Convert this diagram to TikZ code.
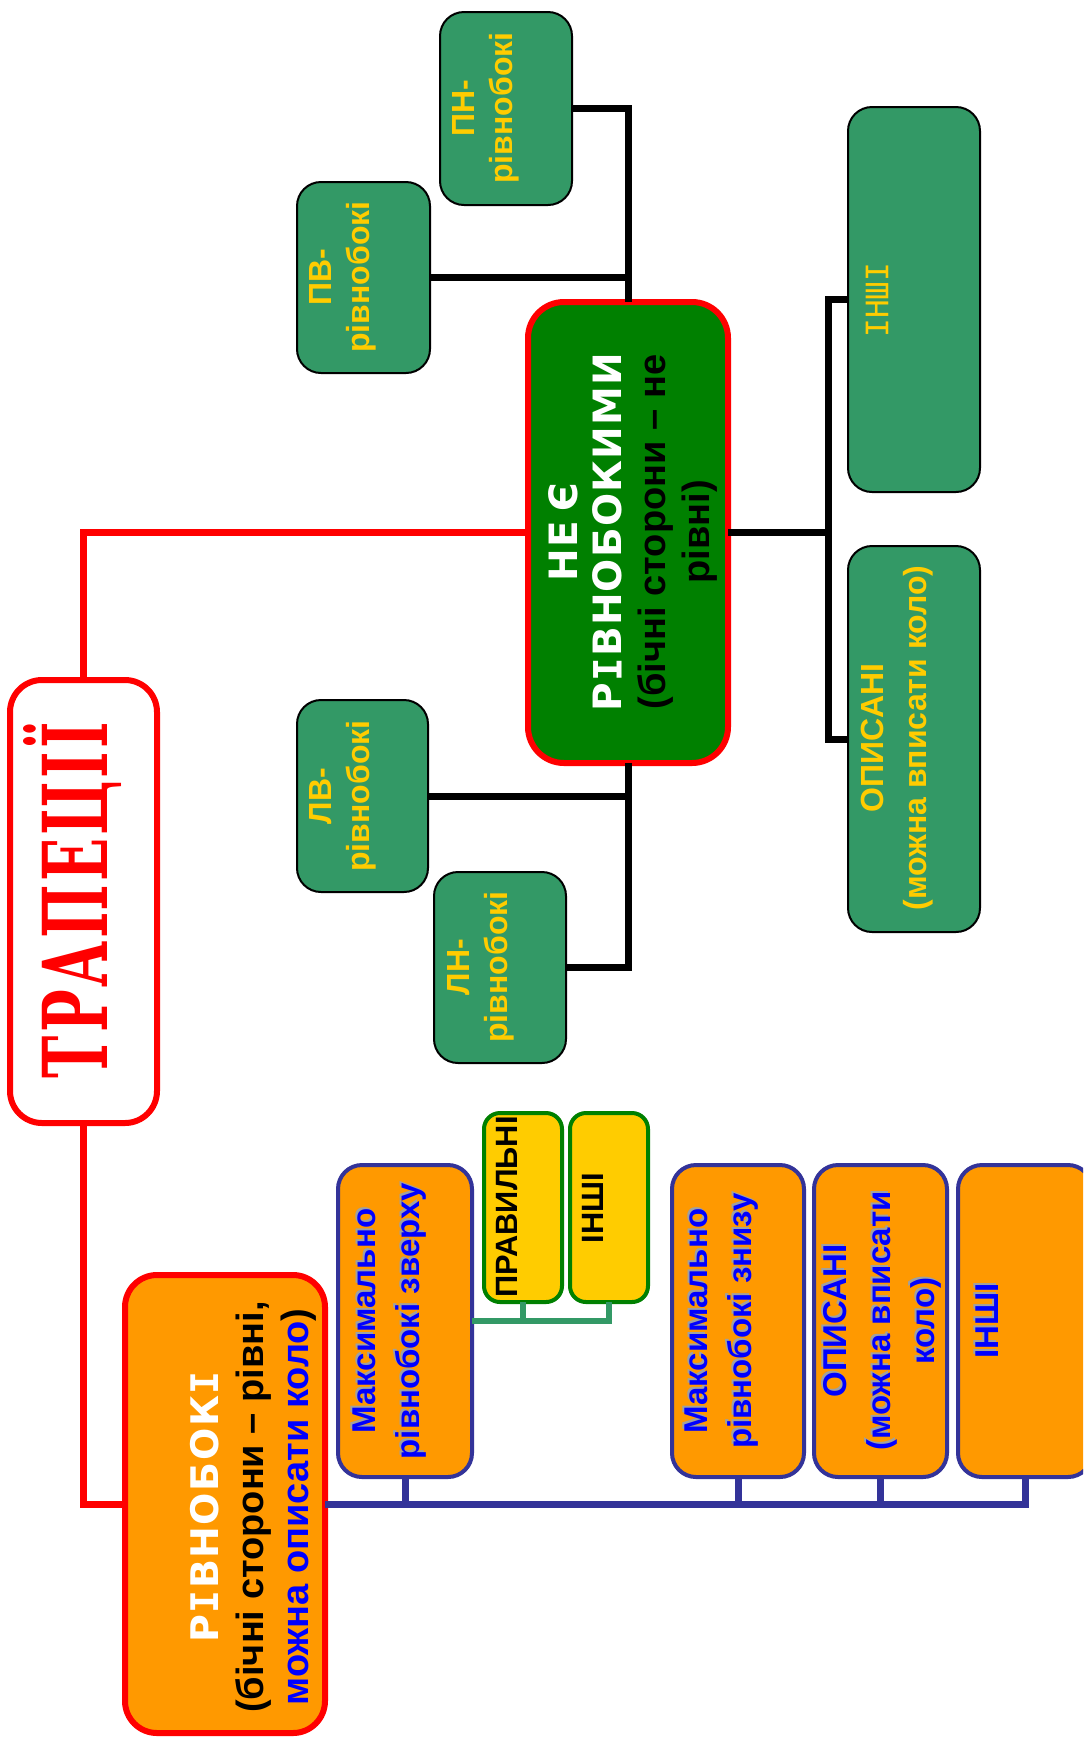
\documentclass[tikz,border=0pt]{standalone}
\usepackage{fontspec}
\usepackage{graphicx}
\setmainfont{Liberation Sans}
\newfontfamily\hdB{DejaVu Sans}
\newfontfamily\monoplain{DejaVu Sans Mono}
\newfontfamily\serifT{DejaVu Serif}
\newcommand\kA{\kern0.8pt}
\newcommand\kB{\kern0.6pt}
\newcommand\sI{{\monoplain\bfseries І}}
\definecolor{cRed}{HTML}{FF0000}
\definecolor{cDGreen}{HTML}{008000}
\definecolor{cSea}{HTML}{339966}
\definecolor{cYellow}{HTML}{FFCC00}
\definecolor{cOrange}{HTML}{FF9900}
\definecolor{cNavy}{HTML}{333399}
\definecolor{cBlue}{HTML}{0000FF}
\definecolor{cShadow}{HTML}{A0A0A0}
\begin{document}
\begin{tikzpicture}[x=0.5pt,y=-0.5pt,
  box/.style={draw, inner sep=0pt, outer sep=0pt},
  redbox/.style={box, draw=cRed, line width=3pt, rounded corners=16pt},
  seabox/.style={box, draw=black, fill=cSea, line width=1pt, rounded corners=12pt},
  orbox/.style={box, draw=cNavy, fill=cOrange, line width=2pt, rounded corners=12pt},
  yebox/.style={box, draw=cDGreen, fill=cYellow, line width=2pt, rounded corners=8pt},
  txt/.style={rotate=90, inner sep=0pt, align=center},
  redline/.style={draw=cRed, line width=3.5pt},
  blkline/.style={draw=black, line width=3.5pt},
  navyline/.style={draw=cNavy, line width=3.5pt},
  sealine/.style={draw=cSea, line width=3pt},
  otxt/.style={txt, text=cBlue, font=\fontsize{16.5}{22}\selectfont\bfseries},
  oshadow/.style={otxt, text=cShadow, xshift=1pt, yshift=1pt},
  gtxt/.style={txt, text=cYellow, font=\fontsize{16}{19}\selectfont\bfseries},
  ytxt/.style={txt, text=black, font=\fontsize{15.4}{19}\selectfont\bfseries},
]
\useasboundingbox (0,0) rectangle (1083,1737);
\clip (0,0) rectangle (1083,1737);

% ---- boxes ----
\node[redbox, fill=white, minimum width=73.5pt, minimum height=221.5pt] (trap) at (83.5,901.5) {};
\node[redbox, fill=cOrange, minimum width=100pt, minimum height=229pt] (rivn) at (225,1504) {};
\node[redbox, fill=cDGreen, rounded corners=18pt, minimum width=100pt, minimum height=230.5pt] (ne) at (628,532.5) {};

\node[orbox, minimum width=67pt, minimum height=156pt] (o1) at (405,1321) {};
\node[orbox, minimum width=66pt, minimum height=156pt] (o2) at (738,1321) {};
\node[orbox, minimum width=66.5pt, minimum height=156pt] (o3) at (880.5,1321) {};
\node[orbox, minimum width=67pt, minimum height=156pt] (o4) at (1025,1321) {};

\node[yebox, minimum width=39pt, minimum height=94.5pt] (y1) at (523,1207.5) {};
\node[yebox, minimum width=39pt, minimum height=94.5pt] (y2) at (609,1207.5) {};

\node[seabox, minimum width=66pt, minimum height=96.5pt] (pn) at (506,108.5) {};
\node[seabox, minimum width=66.5pt, minimum height=95.5pt] (pv) at (363.5,277.5) {};
\node[seabox, minimum width=65.5pt, minimum height=96pt] (lv) at (362.5,796) {};
\node[seabox, minimum width=66pt, minimum height=95.5pt] (ln) at (500,967.5) {};
\node[seabox, minimum width=66pt, minimum height=192.5pt] (g1) at (914,299.5) {};
\node[seabox, minimum width=66pt, minimum height=193pt] (g2) at (914,739) {};

% ---- connectors ----
\draw[redline] (trap.north) |- (ne.west);
\draw[redline] (trap.south) |- (rivn.west);

\draw[navyline] (rivn.east) -| (o4.south);
\draw[navyline] (o1.south) -- (o1.south |- rivn.east);
\draw[navyline] (o2.south) -- (o2.south |- rivn.east);
\draw[navyline] (o3.south) -- (o3.south |- rivn.east);

\draw[sealine] (o1.east) -| (y2.south);
\draw[sealine] (y1.south) -- (y1.south |- o1.east);

\draw[blkline] (ne.north) |- (pn.east);
\draw[blkline] (pv.east) -- (pv.east -| ne.north);
\draw[blkline] (ne.south) |- (ln.east);
\draw[blkline] (lv.east) -- (lv.east -| ne.south);
\coordinate (jr) at (828,532.5);
\draw[blkline] (ne.east) -- (jr);
\draw[blkline] (g1.west) -| (jr) |- (g2.west);

% ---- texts ----
\node[txt, anchor=base, text=cRed] (traptxt) at (107,900)
  {\resizebox{178pt}{42pt}{\serifT\bfseries Т\kern0.5ptР\kern0.5ptА\kern0.5ptП\kern0.5ptЕ\kern0.5ptЦ\kern0.5ptІ\kern0.5ptЇ}};

\node[txt, font=\fontsize{19}{22.5}\selectfont\bfseries] (rivntxt) at (253,1507)
  {\textcolor{white}{\fontsize{19}{22.5}\hdB\bfseries Р\kA\sI\kA В\kA Н\kA О\kA Б\kA О\kA К\kA\sI}\\(бічні сторони – рівні,\\\textcolor{cBlue}{можна описати коло})};

\node[txt, font=\fontsize{19}{22}\selectfont\bfseries] (netxt) at (633,532)
  {\textcolor{white}{\fontsize{19.5}{22}\hdB\bfseries Н\kB Е\kern5pt Є}\\\textcolor{white}{\fontsize{19.5}{22}\hdB\bfseries Р\kB\sI\kB В\kB Н\kB О\kB Б\kB О\kB К\kB И\kB М\kB И}\\(бічні сторони – не\\рівні)};

\node[oshadow] (o1s) at (390,1321) {Максимально\\рівнобокі зверху};
\node[otxt] (o1t) at (390,1321) {Максимально\\рівнобокі зверху};
\node[oshadow] (o2s) at (722,1321) {Максимально\\рівнобокі знизу};
\node[otxt] (o2t) at (722,1321) {Максимально\\рівнобокі знизу};
\node[oshadow] (o3s) at (882,1321) {ОПИСАНІ\\(можна вписати\\коло)};
\node[otxt] (o3t) at (882,1321) {ОПИСАНІ\\(можна вписати\\коло)};
\node[oshadow] (o4s) at (987,1321) {ІНШІ};
\node[otxt] (o4t) at (987,1321) {ІНШІ};

\node[ytxt] (y1t) at (507,1207) {ПРАВИЛЬНІ};
\node[ytxt] (y2t) at (593,1208) {ІНШІ};

\node[gtxt] (pnt) at (486,108) {ПН-\\рівнобокі};
\node[gtxt] (pvt) at (343,277) {ПВ-\\рівнобокі};
\node[gtxt] (lvt) at (343,796) {ЛВ-\\рівнобокі};
\node[gtxt] (lnt) at (481,967) {ЛН-\\рівнобокі};
\node[gtxt, font=\fontsize{16}{21.5}\selectfont\bfseries] (g2t) at (897,738) {ОПИСАНІ\\(можна вписати коло)};
\node[txt, text=cYellow, font=\fontsize{15.5}{19}\selectfont\monoplain] (g1t) at (877,300) {ІНШІ};
\end{tikzpicture}
\end{document}
